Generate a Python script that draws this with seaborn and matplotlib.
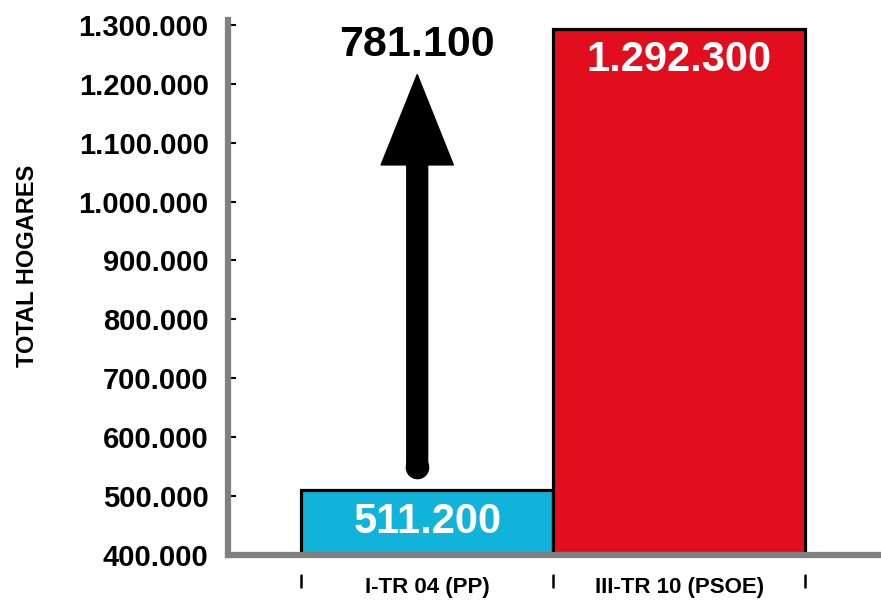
import matplotlib
matplotlib.use('Agg')
import matplotlib.pyplot as plt
import matplotlib.transforms as mtransforms
import seaborn as sns
import pandas as pd

#DATA
####################################################################################################

categories = ['I-TR 04 (PP)', 'III-TR 10 (PSOE)']
hogares = [511200, 1292300]
bar_colors = ['#12B3DA', '#E20E1E']
diff_label = '781.100'
y_ticks = list(range(400000, 1300001, 100000))

def fmt_es(v):
    return f'{v:,.0f}'.replace(',', '.')

df = pd.DataFrame({'periodo': categories, 'hogares': hogares})

#PLOT
####################################################################################################

sns.set_style('white')
plt.rcParams['font.family'] = ['Liberation Sans', 'DejaVu Sans']
plt.rcParams['text.color'] = 'black'
plt.rcParams['xtick.color'] = 'black'
plt.rcParams['ytick.color'] = 'black'
plt.rcParams['axes.labelcolor'] = 'black'

fig = plt.figure(figsize=(8.81, 6.06), dpi=100)
ax = fig.add_axes([0.259, 0.084, 0.741, 0.883])

sns.barplot(data=df, x='periodo', y='hogares', hue='periodo', palette=bar_colors, saturation=1,
            width=1.0, edgecolor='black', linewidth=2.3, legend=False, ax=ax)

ax.set_ylim(400000, 1308000)
ax.set_xlim(-0.79, 1.8)
ax.set_yticks(y_ticks)
ax.set_yticklabels([fmt_es(v) for v in y_ticks], fontsize=21, fontweight='bold')
ax.set_xticks(range(len(categories)))
ax.set_xticklabels(categories, fontsize=16, fontweight='bold')
ax.tick_params(axis='y', direction='in', length=6, width=1.5, color='black', pad=14, left=True)
ax.tick_params(axis='x', length=0, pad=16)
ax.set_xlabel('')
ax.set_ylabel('TOTAL HOGARES', fontsize=17, fontweight='bold')
ax.yaxis.set_label_coords(-0.29, 0.54)

for side in ['top', 'right']:
    ax.spines[side].set_visible(False)
for side in ['left', 'bottom']:
    ax.spines[side].set_color('#808080')
    ax.spines[side].set_linewidth(4.5)
    ax.spines[side].set_zorder(5)

#value labels inside bars
ax.text(0, (ax.get_ylim()[0] + hogares[0]) / 2, fmt_es(hogares[0]), ha='center', va='center',
        color='white', fontsize=30, fontweight='bold')
ax.text(1, hogares[1] - 52000, fmt_es(hogares[1]), ha='center', va='center',
        color='white', fontsize=30, fontweight='bold')

#arrow showing the increase
arrow_x = -0.04
ax.annotate('', xy=(arrow_x, hogares[1] - 77000), xytext=(arrow_x, hogares[0] + 38000),
            arrowprops=dict(facecolor='black', edgecolor='black', width=15, headwidth=52,
                            headlength=65, shrink=0))
ax.plot([arrow_x], [hogares[0] + 38000], marker='o', markersize=16, color='black')
ax.text(arrow_x, hogares[1] - 27000, diff_label, ha='center', va='center',
        color='black', fontsize=31, fontweight='bold')

#small tick marks below the axis at bar edges
trans = mtransforms.blended_transform_factory(ax.transData, ax.transAxes)
for edge in [-0.5, 0.5, 1.5]:
    ax.plot([edge, edge], [-0.038, -0.06], color='black', lw=1.8, transform=trans, clip_on=False)

plt.savefig('out.png', dpi=100)
